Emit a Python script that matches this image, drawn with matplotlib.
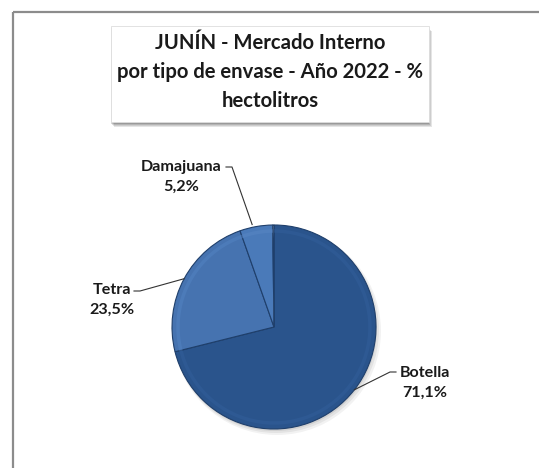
import matplotlib
matplotlib.use("Agg")
import matplotlib.pyplot as plt
import numpy as np
from matplotlib.patches import Rectangle, Circle

categories = ["Botella", "Tetra", "Damajuana", ""]
values = [71.1, 23.5, 5.2, 0.2]
value_labels = ["71,1%", "23,5%", "5,2%", ""]
colors = ["#2A548C", "#4673B0", "#4A7AB9", "#F2F5FA"]
title = "JUNÍN - Mercado Interno\npor tipo de envase - Año 2022 - %\nhectolitros"

W, H = 539, 468
fig = plt.figure(figsize=(W / 100, H / 100), dpi=100)
ax = fig.add_axes([0, 0, 1, 1])

def Y(y):
    return H - y

# pie
cx, cy, r = 274, Y(327), 102
for i, a in enumerate([0.05, 0.06, 0.08]):
    ax.add_patch(Circle((cx + 3 - i, cy - 4 + i), r + 2 - i, facecolor="black",
                        alpha=a, edgecolor="none", zorder=1))
wedges, _ = ax.pie(values, colors=colors, startangle=90, counterclock=False,
                   center=(cx, cy), radius=r, frame=True,
                   wedgeprops=dict(edgecolor="#1F3F6B", linewidth=0.8))
for w in wedges:
    w.set_zorder(3)
ax.set_xlim(0, W)
ax.set_ylim(0, H)
ax.set_aspect("equal")
ax.axis("off")

# outer frame (top and left edges visible)
ax.plot([13, W + 5], [Y(12), Y(12)], color="#8C8C8C", lw=1.6, solid_capstyle="butt")
ax.plot([13, 13], [Y(12), -5], color="#8C8C8C", lw=1.6, solid_capstyle="butt")

# title box with soft shadow
bx0, by0, bx1, by1 = 111, 26, 429, 122
for i, a in enumerate([0.10, 0.10, 0.12, 0.15]):
    off = 4 - i
    ax.add_patch(Rectangle((bx0 + off - 1, Y(by1) - off - 1), bx1 - bx0, by1 - by0,
                           facecolor="#000000", alpha=a, edgecolor="none", zorder=1))
ax.add_patch(Rectangle((bx0, Y(by1)), bx1 - bx0, by1 - by0, facecolor="white",
                       edgecolor="#DDDDDD", lw=0.6, zorder=2))
ax.text((bx0 + bx1) / 2, Y(72), title, ha="center", va="center", fontsize=14.6,
        fontweight="bold", family="Lato", color="#1A1A1A", linespacing=1.55, zorder=3)

# subtle bevel highlights
for w, c in zip(wedges[:3], ["#33609C", "#5585C4", "#5A88C6"]):
    th = np.radians(np.linspace(w.theta1 + 1, w.theta2 - 1, 60))
    ax.plot(cx + (r - 6) * np.cos(th), cy + (r - 6) * np.sin(th), color=c, lw=2.5,
            alpha=0.45, zorder=4)

# labels with leader lines
label_pos = {"Botella": (425, 383, 396), "Tetra": (112, 300, 134), "Damajuana": (181, 177, 226)}
for w, cat, vl in zip(wedges, categories, value_labels):
    if not cat:
        continue
    lx, ly, lend = label_pos[cat]
    ang = np.radians((w.theta1 + w.theta2) / 2)
    px, py = cx + r * np.cos(ang), cy + r * np.sin(ang)
    ax.text(lx, Y(ly), cat + "\n" + vl, ha="center", va="center", fontsize=11.6,
            fontweight="bold", family="Lato", color="#1A1A1A", linespacing=1.5, zorder=5)
    if cat == "Damajuana":
        ax.plot([lend, lend + 6, px - 4], [Y(ly - 10), Y(ly - 10), py + 2], color="#333333", lw=0.8, zorder=5)
    elif cat == "Tetra":
        ax.plot([lend, lend + 6, px], [Y(ly - 10) - 1, Y(ly - 10) - 1, py], color="#333333", lw=0.8, zorder=5)
    else:
        ax.plot([lend, lend - 6, px], [Y(ly - 10) + 1, Y(ly - 10) + 1, py], color="#333333", lw=0.8, zorder=5)

fig.savefig("out.png", dpi=100, facecolor="white")
